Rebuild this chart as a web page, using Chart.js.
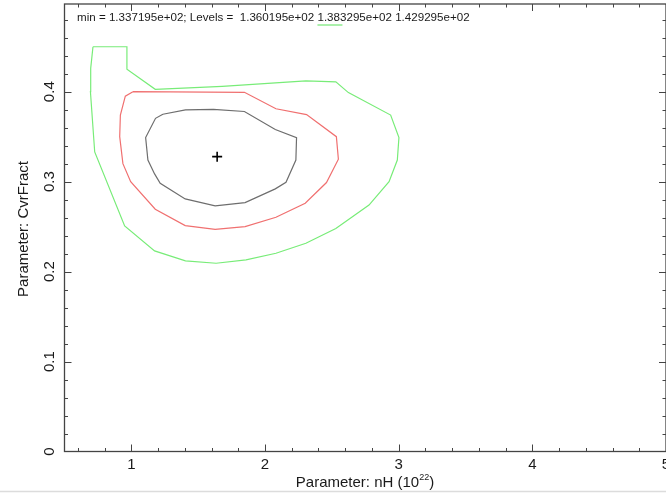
<!DOCTYPE html>
<html>
<head>
<meta charset="utf-8">
<script src="https://cdn.jsdelivr.net/npm/chart.js@4.4.1/dist/chart.umd.min.js"></script>
<style>
  html, body { margin: 0; padding: 0; background: #fff; }
  #wrap { width: 666px; height: 494px; }
</style>
</head>
<body>
<div id="wrap"><canvas id="contourChart" width="666" height="494"></canvas></div>
<script>
// confidence contours of CvrFract vs nH
const outerX = [0.713, 0.967, 0.967, 1.179, 1.68, 2.306, 2.53, 2.624, 2.94, 3.002, 2.99, 2.928, 2.778, 2.53, 2.306, 2.082, 1.858, 1.634, 1.405, 1.174, 0.95, 0.726, 0.694, 0.696, 0.713];
const outerY = [0.45, 0.45, 0.425, 0.4027, 0.406, 0.412, 0.411, 0.399, 0.374, 0.349, 0.324, 0.3, 0.274, 0.248, 0.2315, 0.2204, 0.213, 0.2093, 0.212, 0.223, 0.2508, 0.333, 0.4, 0.426, 0.45];

const midX = [1.012, 1.846, 2.082, 2.311, 2.534, 2.549, 2.46, 2.301, 2.082, 1.851, 1.627, 1.403, 1.179, 0.995, 0.937, 0.913, 0.918, 0.955, 1.012];
const midY = [0.4, 0.3993, 0.381, 0.3745, 0.35, 0.325, 0.299, 0.276, 0.2604, 0.25, 0.247, 0.2511, 0.2693, 0.3, 0.32, 0.35, 0.374, 0.395, 0.4];

const innerX = [1.236, 1.405, 1.614, 1.846, 2.077, 2.236, 2.231, 2.157, 2.077, 1.851, 1.627, 1.403, 1.216, 1.174, 1.124, 1.107, 1.181, 1.236];
const innerY = [0.3749, 0.3797, 0.3804, 0.378, 0.358, 0.349, 0.324, 0.2993, 0.292, 0.2767, 0.273, 0.2808, 0.2982, 0.3086, 0.324, 0.349, 0.3704, 0.3749];

const bestFit = [1.642, 0.3278];

const xTicks = [1, 2, 3, 4, 5];
const yTicks = [0, 0.1, 0.2, 0.3, 0.4];
const headerText = 'min = 1.337195e+02; Levels =  1.360195e+02 1.383295e+02 1.429295e+02';

const FONT = '"Liberation Sans", Arial, Helvetica, sans-serif';
const AXIS = '#444';
const TEXT = '#1a1a1a';

function toPoints(xs, ys) {
    return xs.map((x, i) => ({ x: x, y: ys[i] }));
}

function contour(label, xs, ys, color) {
    return {
        label: label,
        data: toPoints(xs, ys),
        showLine: true,
        borderColor: color,
        borderWidth: 1.2,
        pointRadius: 0,
        tension: 0,
        fill: false
    };
}

// frame, inward ticks, labels and the header line
const framePlugin = {
    id: 'frame',
    afterDraw(chart) {
        const ctx = chart.ctx;
        const a = chart.chartArea;
        const xs = chart.scales.x;
        const ys = chart.scales.y;
        ctx.save();

        ctx.strokeStyle = AXIS;
        ctx.lineWidth = 1.3;
        ctx.strokeRect(a.left, a.top, a.right - a.left, a.bottom - a.top);

        ctx.lineWidth = 1;
        ctx.beginPath();
        for (let v = 0.6; v < 5.01; v += 0.2) {
            const px = Math.round(xs.getPixelForValue(v)) + 0.5;
            const major = Math.abs(v - Math.round(v)) < 1e-6;
            const len = major ? 7 : 3.5;
            ctx.moveTo(px, a.bottom); ctx.lineTo(px, a.bottom - len);
            ctx.moveTo(px, a.top); ctx.lineTo(px, a.top + len);
        }
        for (let v = 0.02; v < 0.5; v += 0.02) {
            const py = Math.round(ys.getPixelForValue(v)) + 0.5;
            const major = Math.abs(v * 10 - Math.round(v * 10)) < 1e-6;
            const len = major ? 7 : 3.5;
            ctx.moveTo(a.left, py); ctx.lineTo(a.left + len, py);
            ctx.moveTo(a.right, py); ctx.lineTo(a.right - len, py);
        }
        ctx.stroke();

        ctx.fillStyle = TEXT;
        ctx.font = '15px ' + FONT;
        ctx.textAlign = 'center';
        ctx.textBaseline = 'middle';
        xTicks.forEach(v => {
            ctx.fillText(String(v), xs.getPixelForValue(v), 465);
        });
        yTicks.forEach(v => {
            ctx.save();
            ctx.translate(50, ys.getPixelForValue(v));
            ctx.rotate(-Math.PI / 2);
            ctx.fillText(String(v), 0, 0);
            ctx.restore();
        });

        // x title with superscript exponent
        const base = 'Parameter: nH (10';
        const sup = '22';
        const tail = ')';
        ctx.font = '15px ' + FONT;
        const wBase = ctx.measureText(base).width;
        const wTail = ctx.measureText(tail).width;
        ctx.font = '9px ' + FONT;
        const wSup = ctx.measureText(sup).width;
        let tx = 365 - (wBase + wSup + wTail) / 2;
        ctx.textAlign = 'left';
        ctx.textBaseline = 'alphabetic';
        ctx.font = '15px ' + FONT;
        ctx.fillText(base, tx, 487);
        ctx.font = '9px ' + FONT;
        ctx.fillText(sup, tx + wBase, 480);
        ctx.font = '15px ' + FONT;
        ctx.fillText(tail, tx + wBase + wSup, 487);

        // y title
        ctx.save();
        ctx.translate(24, 229);
        ctx.rotate(-Math.PI / 2);
        ctx.textAlign = 'center';
        ctx.textBaseline = 'middle';
        ctx.fillText('Parameter: CvrFract', 0, 0);
        ctx.restore();

        // header with level values
        ctx.font = '11.6px ' + FONT;
        ctx.textAlign = 'left';
        ctx.textBaseline = 'alphabetic';
        ctx.fillText(headerText, 77, 21);
        const pre = headerText.indexOf('1.383');
        const gx = 77 + ctx.measureText(headerText.slice(0, pre)).width;
        ctx.strokeStyle = '#7ee87e';
        ctx.lineWidth = 1.3;
        ctx.beginPath();
        ctx.moveTo(gx, 25);
        ctx.lineTo(gx + 25, 25);
        ctx.stroke();

        ctx.strokeStyle = '#dcdcdc';
        ctx.beginPath();
        ctx.moveTo(0, 491.5);
        ctx.lineTo(666, 491.5);
        ctx.stroke();

        ctx.restore();
    }
};

const ctx = document.getElementById('contourChart').getContext('2d');
const contourChart = new Chart(ctx, {
    type: 'scatter',
    data: {
        datasets: [
            contour('1.429295e+02', outerX, outerY, '#78ec78'),
            contour('1.383295e+02', midX, midY, '#f07070'),
            contour('1.360195e+02', innerX, innerY, '#6e6e6e'),
            {
                label: 'min',
                data: [{ x: bestFit[0], y: bestFit[1] }],
                pointStyle: 'cross',
                pointRadius: 5,
                borderColor: '#000',
                borderWidth: 1.6,
                showLine: false
            }
        ]
    },
    options: {
        responsive: false,
        devicePixelRatio: 1,
        animation: false,
        layout: { autoPadding: false, padding: { top: 4, right: 0, left: 0, bottom: 0 } },
        plugins: {
            legend: { display: false },
            tooltip: { enabled: false }
        },
        scales: {
            x: {
                type: 'linear',
                min: 0.5,
                max: 5,
                grid: { display: false },
                border: { display: false },
                ticks: { display: false },
                afterFit(scale) { scale.height = 42.5; }
            },
            y: {
                type: 'linear',
                min: 0,
                max: 0.4975,
                grid: { display: false },
                border: { display: false },
                ticks: { display: false },
                afterFit(scale) { scale.width = 64.5; }
            }
        }
    },
    plugins: [framePlugin]
});
</script>
</body>
</html>
